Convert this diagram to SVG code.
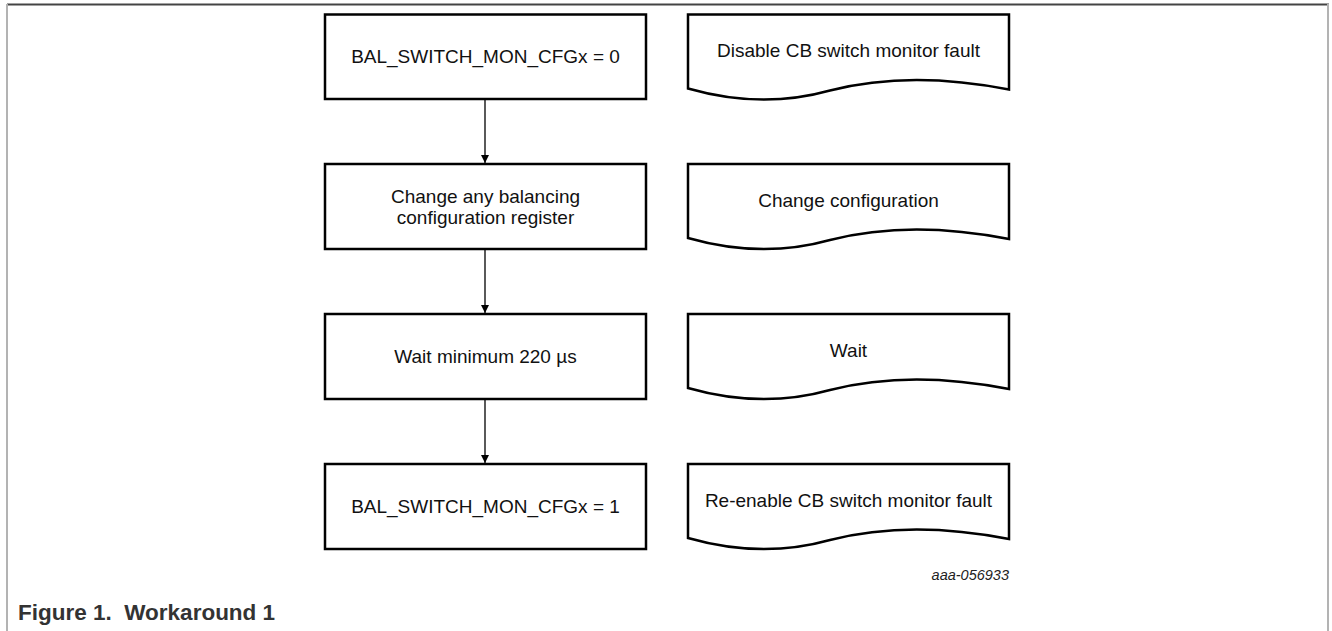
<svg xmlns="http://www.w3.org/2000/svg" width="1332" height="631" viewBox="0 0 1332 631">
  <defs>
    <style>
      .box { fill: #ffffff; stroke: #000000; stroke-width: 2.5; }
      .doc { fill: #ffffff; stroke: #000000; stroke-width: 2.5; stroke-linejoin: miter; }
      .t { font-family: "Liberation Sans", Arial, sans-serif; font-size: 19px; fill: #111111; text-anchor: middle; }
      .conn { stroke: #000000; stroke-width: 1.3; fill: none; }
      .frame-top { stroke: #444444; stroke-width: 2; }
      .frame-side { stroke: #b3b3b3; stroke-width: 2; }
      .cap { font-family: "Liberation Sans", Arial, sans-serif; font-size: 22.5px; font-weight: bold; fill: #333333; white-space: pre; }
      .code { font-family: "Liberation Sans", Arial, sans-serif; font-size: 14.5px; font-style: italic; fill: #222222; text-anchor: end; }
    </style>
    <marker id="arrow" markerWidth="10" markerHeight="10" refX="8" refY="4" orient="auto" markerUnits="userSpaceOnUse">
      <path d="M0,0 L8,4 L0,8 Z" fill="#000000"/>
    </marker>
    <path id="docshape" d="M0,0 H321 V75 C260,63 200,61 142,76 C92,90 42,86 0,74 Z"/>
  </defs>

  <g id="frame">
    <line class="frame-top" x1="7" y1="4.5" x2="1329" y2="4.5"/>
    <line class="frame-side" x1="7" y1="4" x2="7" y2="631"/>
    <line class="frame-side" x1="1328" y1="4" x2="1328" y2="631"/>
  </g>

  <g id="connectors">
    <line class="conn" x1="485" y1="99" x2="485" y2="163" marker-end="url(#arrow)"/>
    <line class="conn" x1="485" y1="249" x2="485" y2="313" marker-end="url(#arrow)"/>
    <line class="conn" x1="485" y1="399" x2="485" y2="463" marker-end="url(#arrow)"/>
  </g>

  <g id="step1">
    <rect class="box" x="325" y="14.5" width="321" height="84.5"/>
    <text class="t" x="485.5" y="63">BAL_SWITCH_MON_CFGx = 0</text>
  </g>
  <g id="step2">
    <rect class="box" x="325" y="164" width="321" height="85"/>
    <text class="t" x="485.5" y="203">Change any balancing</text>
    <text class="t" x="485.5" y="224">configuration register</text>
  </g>
  <g id="step3">
    <rect class="box" x="325" y="314" width="321" height="85"/>
    <text class="t" x="485.5" y="363">Wait minimum 220 µs</text>
  </g>
  <g id="step4">
    <rect class="box" x="325" y="464" width="321" height="85"/>
    <text class="t" x="485.5" y="513">BAL_SWITCH_MON_CFGx = 1</text>
  </g>

  <g id="note1">
    <use href="#docshape" class="doc" x="688" y="14.5"/>
    <text class="t" x="848.5" y="57">Disable CB switch monitor fault</text>
  </g>
  <g id="note2">
    <use href="#docshape" class="doc" x="688" y="164"/>
    <text class="t" x="848.5" y="207">Change configuration</text>
  </g>
  <g id="note3">
    <use href="#docshape" class="doc" x="688" y="314"/>
    <text class="t" x="848.5" y="357">Wait</text>
  </g>
  <g id="note4">
    <use href="#docshape" class="doc" x="688" y="464"/>
    <text class="t" x="848.5" y="507">Re-enable CB switch monitor fault</text>
  </g>

  <text class="code" x="1009" y="580">aaa-056933</text>
  <text class="cap" x="18" y="620" xml:space="preserve">Figure 1.  Workaround 1</text>
</svg>
